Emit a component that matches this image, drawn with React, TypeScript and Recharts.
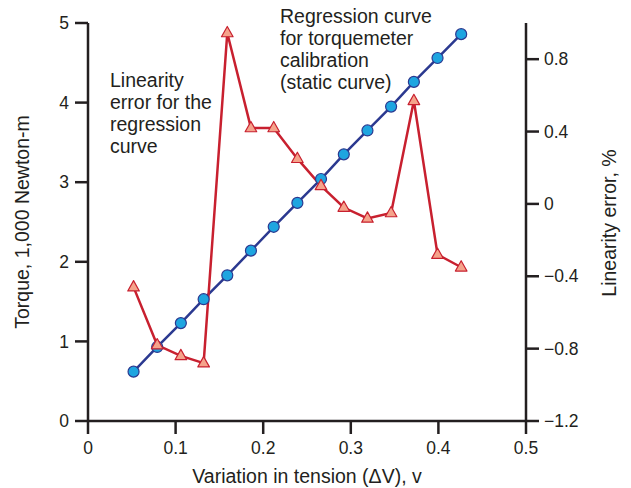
import { ComposedChart, Line, XAxis, YAxis } from "recharts";

const tension = [0.052, 0.079, 0.106, 0.132, 0.159, 0.186, 0.212, 0.239, 0.266, 0.292, 0.319, 0.346, 0.372, 0.399, 0.426];
const torque = [0.62, 0.93, 1.23, 1.53, 1.83, 2.14, 2.44, 2.74, 3.04, 3.35, 3.65, 3.95, 4.26, 4.56, 4.86];
const linErr = [-0.46, -0.78, -0.84, -0.88, 0.945, 0.42, 0.42, 0.25, 0.1, -0.02, -0.08, -0.05, 0.57, -0.28, -0.35];

const xTicks = [0, 0.1, 0.2, 0.3, 0.4, 0.5];
const torqueTicks = [0, 1, 2, 3, 4, 5];
const errTicks = [-1.2, -0.8, -0.4, 0, 0.4, 0.8];

const rows = tension.map((v, i) => ({ v, torque: torque[i], err: linErr[i] }));

const INK = "#231f20";
const FONT = "'Liberation Sans', Arial, sans-serif";
const tickStyle = { fill: INK, fontSize: 17.5, fontFamily: FONT };
const axisLine = { stroke: INK, strokeWidth: 2.5 };
const tickLine = { stroke: INK, strokeWidth: 2.5 };

const fmt = (n: number) => (n === 0 ? "0" : (n < 0 ? "\u2212" : "") + Math.abs(n).toFixed(1));

function Triangle(props: any) {
  const { cx, cy } = props;
  if (cx == null || cy == null) return null;
  return (
    <polygon
      points={`${cx},${cy - 6.5} ${cx - 5.8},${cy + 3.8} ${cx + 5.8},${cy + 3.8}`}
      fill="#f5a38b"
      stroke="#c8202f"
      strokeWidth={1.2}
      strokeLinejoin="round"
    />
  );
}

export default function App() {
  return (
    <div style={{ position: "absolute", left: 0, top: 0, width: 631, height: 488, background: "#fff" }}>
      <ComposedChart width={631} height={488} data={rows} margin={{ top: 23, right: 0, bottom: 0, left: 0 }}>
        <XAxis
          dataKey="v"
          type="number"
          domain={[0, 0.5]}
          ticks={xTicks}
          tickFormatter={fmt}
          height={67}
          tickSize={13}
          tickMargin={8}
          axisLine={axisLine}
          tickLine={tickLine}
          tick={tickStyle}
        />
        <YAxis
          yAxisId="torque"
          domain={[0, 5]}
          ticks={torqueTicks}
          width={88}
          tickSize={13}
          tickMargin={6}
          axisLine={axisLine}
          tickLine={tickLine}
          tick={tickStyle}
        />
        <YAxis
          yAxisId="err"
          orientation="right"
          domain={[-1.2, 1.0]}
          ticks={errTicks}
          tickFormatter={fmt}
          width={105}
          tickSize={13}
          tickMargin={5}
          axisLine={axisLine}
          tickLine={tickLine}
          tick={tickStyle}
        />
        <Line
          yAxisId="torque"
          dataKey="torque"
          stroke="#2b3990"
          strokeWidth={2.5}
          dot={{ r: 5.5, fill: "#1ea5e0", stroke: "#2b3990", strokeWidth: 1.2 }}
          isAnimationActive={false}
        />
        <Line
          yAxisId="err"
          dataKey="err"
          stroke="#c8202f"
          strokeWidth={2.5}
          dot={<Triangle />}
          isAnimationActive={false}
        />
      </ComposedChart>
      <svg width={631} height={488} style={{ position: "absolute", left: 0, top: 0, pointerEvents: "none" }}>
        <g fill={INK} fontFamily={FONT} fontSize={19.5}>
          <text x={22} y={222} textAnchor="middle" dominantBaseline="central" transform="rotate(-90 22 222)">
            Torque, 1,000 Newton-m
          </text>
          <text x={609} y={223} textAnchor="middle" dominantBaseline="central" transform="rotate(-90 609 223)">
            Linearity error, %
          </text>
          <text x={307} y={476} textAnchor="middle" dominantBaseline="central">
            Variation in tension (ΔV), v
          </text>
          <text x={110} dominantBaseline="central">
            <tspan x={110} y={80}>Linearity</tspan>
            <tspan x={110} y={102}>error for the</tspan>
            <tspan x={110} y={124}>regression</tspan>
            <tspan x={110} y={146}>curve</tspan>
          </text>
          <text x={280} dominantBaseline="central">
            <tspan x={280} y={16}>Regression curve</tspan>
            <tspan x={280} y={38}>for torquemeter</tspan>
            <tspan x={280} y={60}>calibration</tspan>
            <tspan x={280} y={82}>(static curve)</tspan>
          </text>
        </g>
      </svg>
    </div>
  );
}
